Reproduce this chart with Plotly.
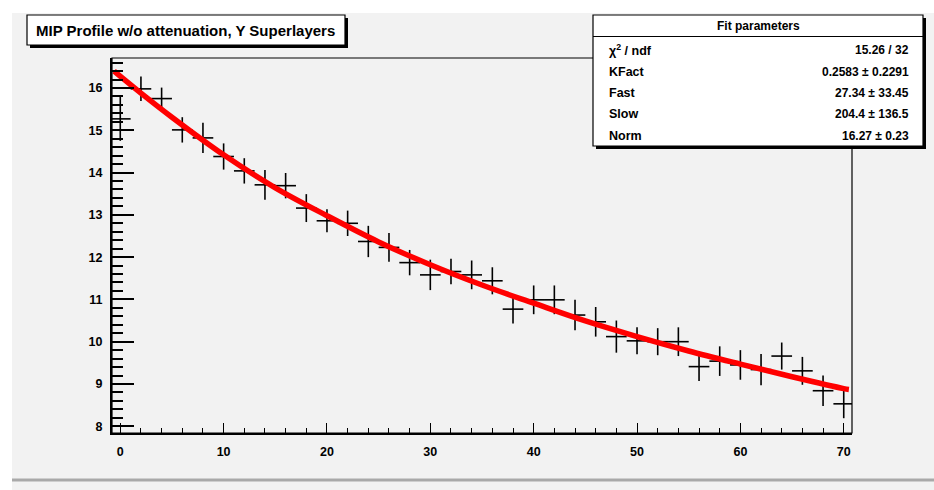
import plotly.graph_objects as go

# ---- data ----
x_bins = [0, 2, 4, 6, 8, 10, 12, 14, 16, 18, 20, 22, 24, 26, 28, 30, 32, 34,
          36, 38, 40, 42, 44, 46, 48, 50, 52, 54, 56, 58, 60, 62, 64, 66, 68, 70]
y_vals = [15.27, 15.98, 15.75, 15.01, 14.82, 14.38, 14.04, 13.71, 13.69, 13.16,
          12.86, 12.80, 12.37, 12.23, 11.87, 11.58, 11.66, 11.58, 11.44, 10.77,
          10.99, 10.99, 10.63, 10.47, 10.12, 10.02, 10.00, 10.00, 9.41, 9.54,
          9.45, 9.34, 9.66, 9.31, 8.84, 8.53]
y_errs = [0.52, 0.29, 0.26, 0.30, 0.36, 0.31, 0.30, 0.35, 0.30, 0.33, 0.27, 0.30,
          0.37, 0.34, 0.30, 0.36, 0.30, 0.34, 0.32, 0.34, 0.34, 0.34, 0.36, 0.35,
          0.38, 0.32, 0.32, 0.34, 0.34, 0.35, 0.35, 0.37, 0.32, 0.33, 0.36, 0.34]
x_half_width = 1.0

fit_x = [-0.6, 2, 5, 10, 15, 20, 25, 30, 35, 40, 45, 50, 55, 60, 65, 70, 70.5]
fit_y = [16.40, 15.88, 15.31, 14.42, 13.64, 12.98, 12.36, 11.82, 11.34, 10.91,
         10.49, 10.12, 9.78, 9.47, 9.17, 8.89, 8.87]

title_text = "MIP Profile w/o attenuation, Y Superlayers"
stat_header = "Fit parameters"
stat_names = ["χ<sup>2</sup> / ndf", "KFact", "Fast", "Slow", "Norm"]
stat_values = ["15.26 / 32", "0.2583 ± 0.2291", "27.34 ± 33.45",
               "204.4 ± 136.5", "16.27 ± 0.23"]

x_tickvals = [0, 10, 20, 30, 40, 50, 60, 70]
y_tickvals = [8, 9, 10, 11, 12, 13, 14, 15, 16]

# ---- layout geometry (pixels) ----
W, H = 934, 490
L, R, T, B = 112, 82, 58, 57
PW, PH = W - L - R, H - T - B


def px(xp):
    return (xp - L) / PW


def py(yp):
    return (H - B - yp) / PH


FONT = "Liberation Sans, Arial, sans-serif"
BG = "#f2f2f2"

fig = go.Figure()

fig.add_trace(go.Scatter(
    x=x_bins, y=y_vals, mode="markers",
    marker=dict(size=1, color="black"),
    error_x=dict(type="constant", value=x_half_width, width=0, thickness=1.6, color="black"),
    error_y=dict(type="data", array=y_errs, width=0, thickness=1.6, color="black"),
    showlegend=False, hoverinfo="x+y",
))

fig.add_trace(go.Scatter(
    x=fit_x, y=fit_y, mode="lines", line=dict(color="#ff0000", width=5.5, shape="spline"),
    showlegend=False,
))

shapes = []
shapes.append(dict(type="rect", xref="paper", yref="paper", x0=px(12), x1=px(W + 5),
                   y0=py(H + 5), y1=py(13), fillcolor=BG, line=dict(width=0), layer="below"))
shapes.append(dict(type="line", xref="paper", yref="paper", x0=px(12), x1=px(W + 5),
                   y0=py(480), y1=py(480), line=dict(color="#a9a9a9", width=3)))
shapes.append(dict(type="rect", xref="paper", yref="paper", x0=0, x1=1, y0=0, y1=1,
                   line=dict(color="black", width=1.2)))


def box(x0, y0, x1, y1, shadow=3):
    shapes.append(dict(type="rect", xref="paper", yref="paper",
                       x0=px(x0 + shadow), x1=px(x1 + shadow), y0=py(y1 + shadow), y1=py(y0 + shadow),
                       fillcolor="black", line=dict(width=0)))
    shapes.append(dict(type="rect", xref="paper", yref="paper",
                       x0=px(x0), x1=px(x1), y0=py(y1), y1=py(y0),
                       fillcolor="white", line=dict(color="black", width=1.2)))


box(27, 15, 345, 45)
box(593, 15, 923, 146)
shapes.append(dict(type="line", xref="paper", yref="paper", x0=px(593), x1=px(923),
                   y0=py(36.5), y1=py(36.5), line=dict(color="black", width=1.2)))

annotations = []
annotations.append(dict(text=title_text, xref="paper", yref="paper", x=px(185), y=py(30),
                        xanchor="center", yanchor="middle", showarrow=False,
                        font=dict(family=FONT, size=15, color="black", weight="bold")))
annotations.append(dict(text=stat_header, xref="paper", yref="paper", x=px(758), y=py(25.5),
                        xanchor="center", yanchor="middle", showarrow=False,
                        font=dict(family=FONT, size=12, color="black", weight="bold")))
row_y = [50, 71.5, 93, 114.5, 136]
for name, val, yy in zip(stat_names, stat_values, row_y):
    annotations.append(dict(text=name, xref="paper", yref="paper", x=px(607), y=py(yy),
                            xanchor="left", yanchor="middle", showarrow=False,
                            font=dict(family=FONT, size=12.5, color="black", weight="bold")))
    annotations.append(dict(text=val, xref="paper", yref="paper", x=px(911), y=py(yy),
                            xanchor="right", yanchor="middle", showarrow=False,
                            font=dict(family=FONT, size=12, color="black", weight="bold")))

tickfont = dict(family=FONT, size=12.5, color="black", weight="bold")

fig.update_layout(
    width=W, height=H, autosize=False,
    margin=dict(l=L, r=R, t=T, b=B, pad=0),
    paper_bgcolor="white", plot_bgcolor=BG,
    shapes=shapes, annotations=annotations,
    xaxis=dict(range=[-0.8, 70.8], tickvals=x_tickvals, ticks="inside", ticklen=10,
               tickwidth=1.2, tickcolor="black", showgrid=False, zeroline=False,
               showline=True, linecolor="black", linewidth=2.2, tickfont=tickfont,
               ticklabelstandoff=6,
               minor=dict(dtick=2, tick0=0, ticks="inside", ticklen=5, tickwidth=1.2,
                          tickcolor="black", showgrid=False)),
    yaxis=dict(range=[7.84, 16.71], tickvals=y_tickvals, ticks="inside", ticklen=22,
               tickwidth=1.6, tickcolor="black", showgrid=False, zeroline=False,
               showline=True, linecolor="black", linewidth=2.2, tickfont=tickfont,
               ticklabelstandoff=5,
               minor=dict(dtick=0.2, tick0=8, ticks="inside", ticklen=11, tickwidth=1.6,
                          tickcolor="black", showgrid=False)),
)

fig.write_html("out.html")
